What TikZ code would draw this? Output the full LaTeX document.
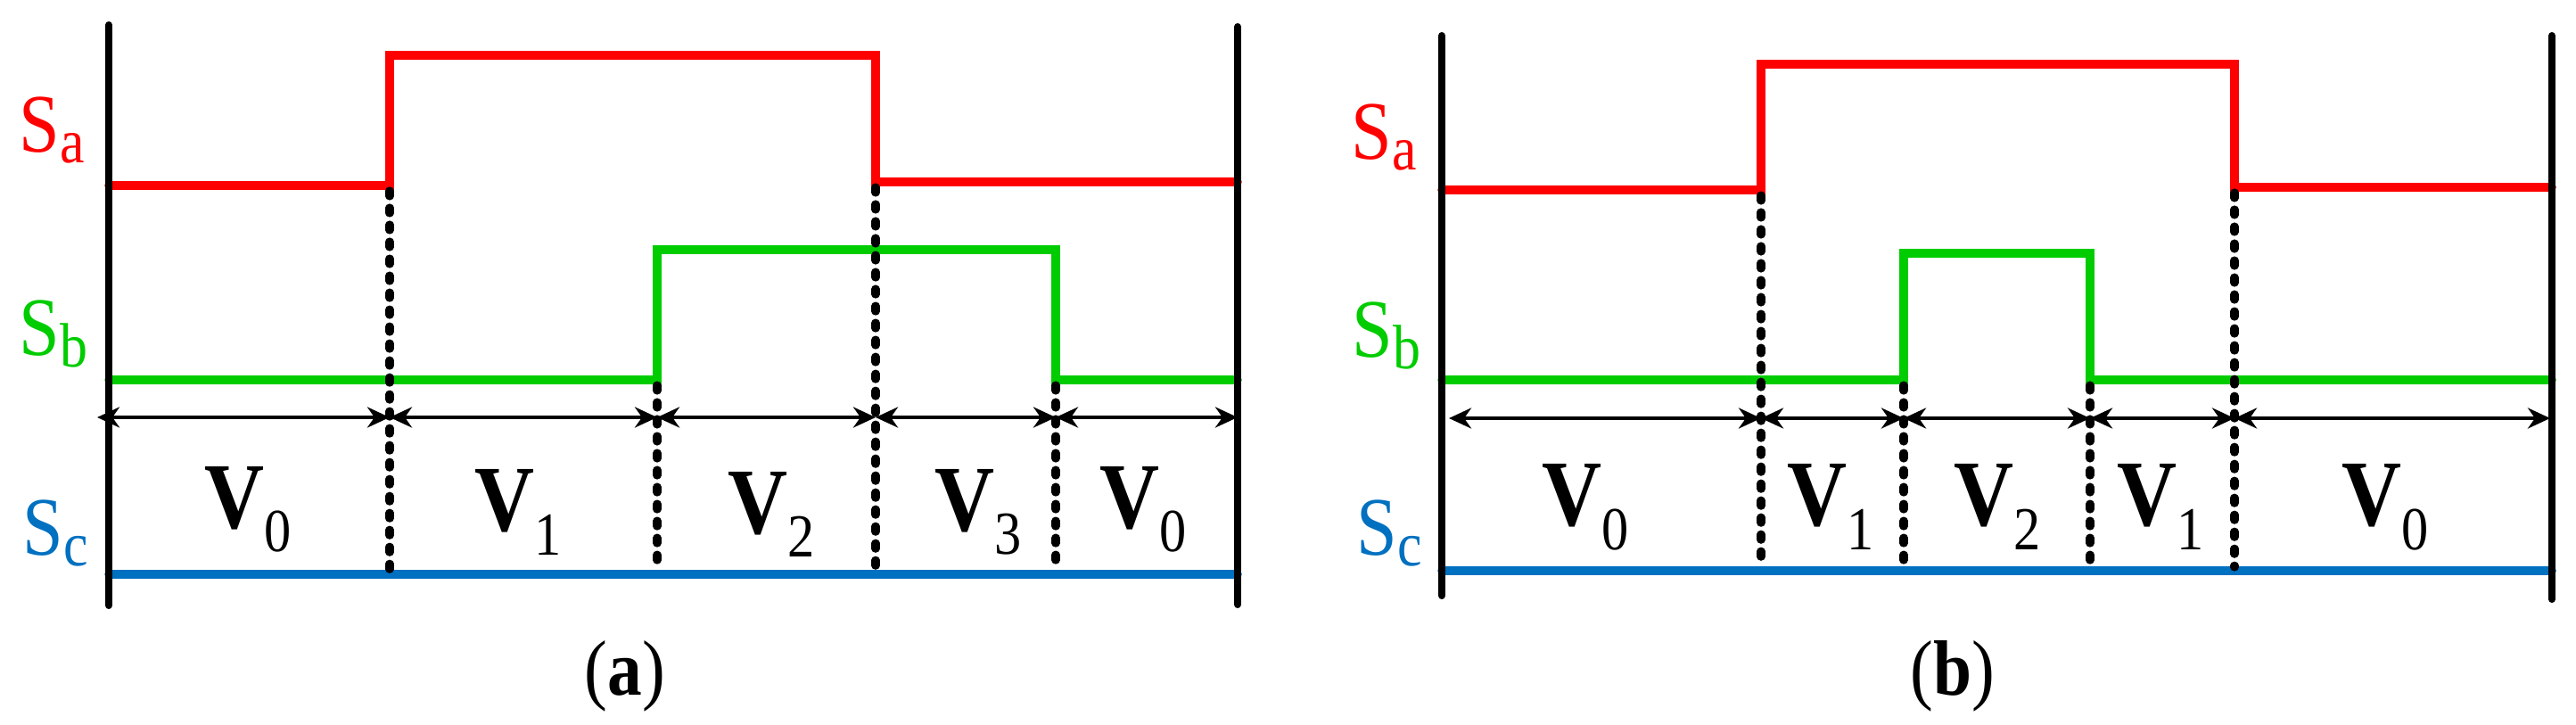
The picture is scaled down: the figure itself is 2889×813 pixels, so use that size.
\documentclass[tikz,border=0pt]{standalone}
\usepackage{fontspec}
\usepackage{graphicx}
\setmainfont{Liberation Serif}
\newfontfamily\tnr{Liberation Serif}
\usetikzlibrary{arrows.meta}
\definecolor{sred}{RGB}{255,0,0}
\definecolor{sgreen}{RGB}{0,204,0}
\definecolor{sblue}{RGB}{0,112,192}
\newcommand\hs[1]{\scalebox{0.88}[1]{#1}}
\newcommand\ssub[1]{\raisebox{-0.12cm}{\fontsize{20}{20}\selectfont #1}}
\newcommand\vsub[1]{\raisebox{-0.26cm}{\fontsize{19.5}{20}\selectfont #1}}
\newcommand\vlab[1]{\hs{\textbf{V}\vsub{#1}}}
\newcommand\slabel[1]{\hs{S\ssub{#1}}}
\begin{document}
\begin{tikzpicture}[x=0.01cm,y=-0.01cm,
  axisline/.style={line width=2.3pt,line cap=round},
  sig/.style={line width=2.7pt,line cap=round,line join=miter},
  guide/.style={line width=2.6pt,line cap=round,dash pattern=on 0.06cm off 0.13cm},
  span/.style={line width=1.15pt,{Stealth[length=0.25cm,width=0.23cm,inset=0.08cm]}-{Stealth[length=0.25cm,width=0.23cm,inset=0.08cm]}},
  slab/.style={inner sep=0pt,anchor=base,text=#1,font=\tnr\fontsize{26.5}{30}\selectfont},
  vtext/.style={inner sep=0pt,anchor=base,font=\tnr\fontsize{30}{34}\selectfont},
  captext/.style={inner sep=0pt,anchor=base,font=\tnr\fontsize{25}{28}\selectfont}]
\useasboundingbox (0,0) rectangle (2889,813);

% ---------------- panel (a) ----------------
\draw[sig,sred] (122,208) -- (437,208) -- (437,62) -- (982,62) -- (982,204) -- (1388,204);
\draw[sig,sgreen] (122,426) -- (737,426) -- (737,280) -- (1184,280) -- (1184,426) -- (1388,426);
\draw[sig,sblue] (122,644) -- (1388,644);
\draw[axisline] (122,28) -- (122,679);
\draw[axisline] (1388,30) -- (1388,678);

\coordinate (a0) at (109,468);
\coordinate (a1) at (437,468);
\coordinate (a2) at (737,468);
\coordinate (a3) at (982,468);
\coordinate (a4) at (1184,468);
\coordinate (a5) at (1388,468);

\draw[guide] (437,214) -- (437,640);
\draw[guide] (737,432) -- (737,640);
\draw[guide] (982,210) -- (982,640);
\draw[guide] (1184,432) -- (1184,640);

\draw[span] (a0) -- (a1);
\draw[span] (a1) -- (a2);
\draw[span] (a2) -- (a3);
\draw[span] (a3) -- (a4);
\draw[span] (a4) -- (a5);

\node[slab=sred]   (saA) at (58,171) {\slabel{a}};
\node[slab=sgreen] (sbA) at (60,399) {\slabel{b}};
\node[slab=sblue]  (scA) at (62,622) {\slabel{c}};

\node[vtext] (va0) at (278,592) {\vlab{0}};
\node[vtext] (va1) at (581,596) {\vlab{1}};
\node[vtext] (va2) at (865,598) {\vlab{2}};
\node[vtext] (va3) at (1097,595) {\vlab{3}};
\node[vtext] (va4) at (1282,592) {\vlab{0}};

\node[captext] (capa) at (701,779) {\hs{(\textbf{a})}};

% ---------------- panel (b) ----------------
\draw[sig,sred] (1617,213) -- (1975,213) -- (1975,72) -- (2506,72) -- (2506,210) -- (2862,210);
\draw[sig,sgreen] (1617,426) -- (2135,426) -- (2135,284) -- (2344,284) -- (2344,426) -- (2862,426);
\draw[sig,sblue] (1617,640) -- (2862,640);
\draw[axisline] (1617,40) -- (1617,668);
\draw[axisline] (2862,40) -- (2862,672);

\coordinate (b0) at (1625,469);
\coordinate (b1) at (1975,469);
\coordinate (b2) at (2135,469);
\coordinate (b3) at (2344,469);
\coordinate (b4) at (2506,469);
\coordinate (b5) at (2860,469);

\draw[guide] (1975,219) -- (1975,636);
\draw[guide] (2135,432) -- (2135,636);
\draw[guide] (2344,432) -- (2344,636);
\draw[guide] (2506,216) -- (2506,636);

\draw[span] (b0) -- (b1);
\draw[span] (b1) -- (b2);
\draw[span] (b2) -- (b3);
\draw[span] (b3) -- (b4);
\draw[span] (b4) -- (b5);

\node[slab=sred]   (saB) at (1552,179) {\slabel{a}};
\node[slab=sgreen] (sbB) at (1555,401) {\slabel{b}};
\node[slab=sblue]  (scB) at (1558,622) {\slabel{c}};

\node[vtext] (vb0) at (1778,590) {\vlab{0}};
\node[vtext] (vb1) at (2053,590) {\vlab{1}};
\node[vtext] (vb2) at (2240,590) {\vlab{2}};
\node[vtext] (vb3) at (2423,590) {\vlab{1}};
\node[vtext] (vb4) at (2675,590) {\vlab{0}};

\node[captext] (capb) at (2190,779) {\hs{(\textbf{b})}};
\end{tikzpicture}
\end{document}
